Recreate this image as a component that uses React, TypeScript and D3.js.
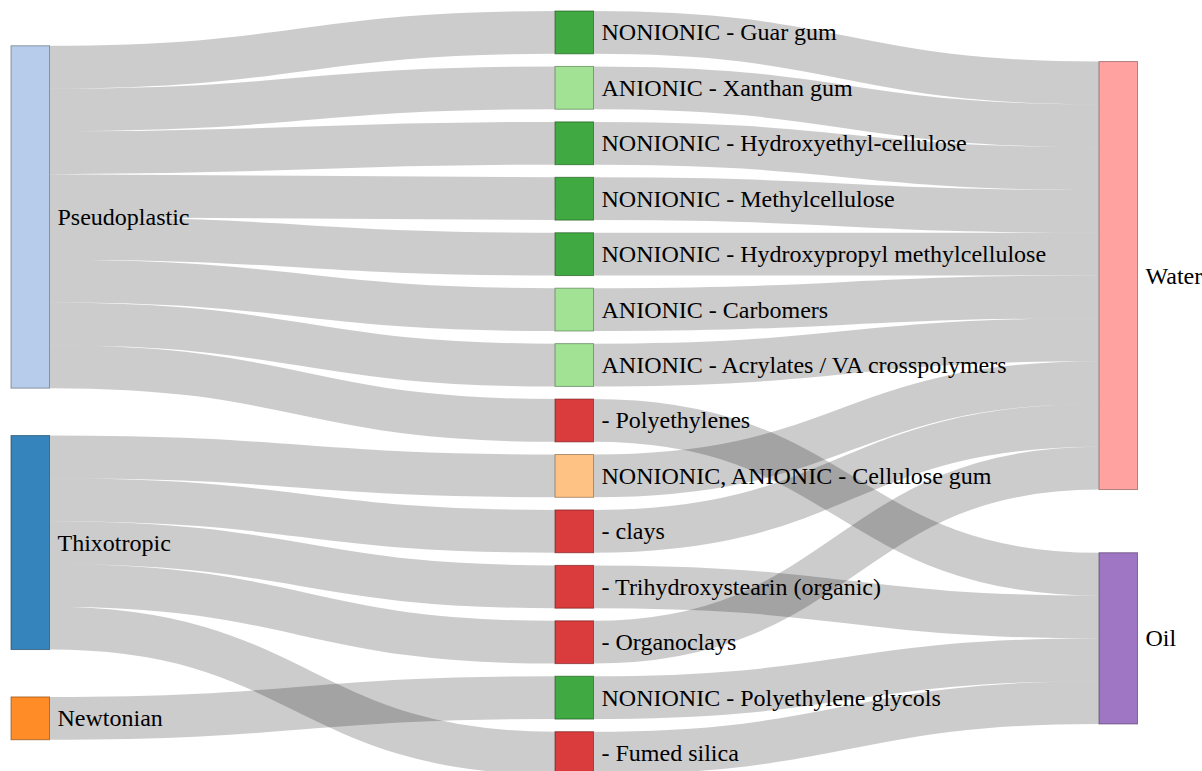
import * as d3 from "d3";
import React, { useMemo } from "react";

// rheology behaviour (left column)
const rheologyNodes = ["Pseudoplastic", "Thixotropic", "Newtonian"];

// thickeners (middle column): ionic type + material
const thickenerTypes = [
  "NONIONIC",
  "ANIONIC",
  "NONIONIC",
  "NONIONIC",
  "NONIONIC",
  "ANIONIC",
  "ANIONIC",
  "",
  "NONIONIC, ANIONIC",
  "",
  "",
  "",
  "NONIONIC",
  "",
];
const thickenerMaterials = [
  "Guar gum",
  "Xanthan gum",
  "Hydroxyethyl-cellulose",
  "Methylcellulose",
  "Hydroxypropyl methylcellulose",
  "Carbomers",
  "Acrylates / VA crosspolymers",
  "Polyethylenes",
  "Cellulose gum",
  "clays",
  "Trihydroxystearin (organic)",
  "Organoclays",
  "Polyethylene glycols",
  "Fumed silica",
];

// solvent phase (right column)
const solventNodes = ["Water", "Oil"];

// rheology each thickener gives, and the phase it thickens
const thickenerRheology = [
  "Pseudoplastic",
  "Pseudoplastic",
  "Pseudoplastic",
  "Pseudoplastic",
  "Pseudoplastic",
  "Pseudoplastic",
  "Pseudoplastic",
  "Pseudoplastic",
  "Thixotropic",
  "Thixotropic",
  "Thixotropic",
  "Thixotropic",
  "Newtonian",
  "Thixotropic",
];
const thickenerSolvent = [
  "Water",
  "Water",
  "Water",
  "Water",
  "Water",
  "Water",
  "Water",
  "Oil",
  "Water",
  "Water",
  "Oil",
  "Water",
  "Oil",
  "Oil",
];
const linkValues = [1, 1, 1, 1, 1, 1, 1, 1, 1, 1, 1, 1, 1, 1];

const colorKeys = [
  "Thixotropic",
  "Pseudoplastic",
  "Newtonian",
  "NONIONIC, ANIONIC",
  "NONIONIC",
  "ANIONIC",
  "",
  "Water",
  "Oil",
];
const palette = [
  "#1f77b4",
  "#aec7e8",
  "#ff7f0e",
  "#ffbb78",
  "#2ca02c",
  "#98df8a",
  "#d62728",
  "#ff9896",
  "#9467bd",
];

const width = 1202;
const height = 771;

// small sankey layout: columns by depth, nodes spread evenly in each column
function sankeyLayout(
  graph: any,
  extent: [[number, number], [number, number]],
  nodeWidth: number,
  nodePadding: number
) {
  const [[x0, y0], [x1, y1]] = extent;
  const { nodes, links } = graph;
  const byName = new Map(nodes.map((d: any) => [d.name, d]));
  nodes.forEach((n: any, i: number) => {
    n.index = i;
    n.sourceLinks = [];
    n.targetLinks = [];
  });
  links.forEach((l: any, i: number) => {
    l.index = i;
    l.source = byName.get(l.source);
    l.target = byName.get(l.target);
    l.source.sourceLinks.push(l);
    l.target.targetLinks.push(l);
  });
  for (const n of nodes) {
    n.value = Math.max(
      d3.sum(n.sourceLinks, (l: any) => l.value),
      d3.sum(n.targetLinks, (l: any) => l.value)
    );
  }

  // depth of each node (breadth-first)
  let current = new Set<any>(nodes);
  let depth = 0;
  while (current.size) {
    const next = new Set<any>();
    for (const n of current) {
      n.depth = depth;
      for (const l of n.sourceLinks) next.add(l.target);
    }
    depth++;
    current = next;
  }
  const nCols = (d3.max(nodes, (d: any) => d.depth) as number) + 1;
  const x = d3
    .scaleLinear()
    .domain([0, nCols - 1])
    .range([x0, x1 - nodeWidth]);
  const columns: any[][] = Array.from({ length: nCols }, () => []);
  for (const n of nodes) {
    n.layer = n.sourceLinks.length ? n.depth : nCols - 1;
    n.x0 = x(n.layer);
    n.x1 = n.x0 + nodeWidth;
    columns[n.layer].push(n);
  }

  const py = nodePadding;
  const ky = d3.min(
    columns,
    (c) => (y1 - y0 - (c.length - 1) * py) / d3.sum(c, (d: any) => d.value)
  )!;
  for (const col of columns) {
    let y = y0;
    for (const n of col) {
      n.y0 = y;
      n.y1 = y + n.value * ky;
      y = n.y1 + py;
      for (const l of n.sourceLinks) l.width = l.value * ky;
    }
    const extra = (y1 - y + py) / (col.length + 1);
    col.forEach((n, i) => {
      n.y0 += extra * (i + 1);
      n.y1 += extra * (i + 1);
    });
  }

  // stack links at each node in the order of the node they connect to
  for (const n of nodes) {
    n.sourceLinks.sort((a: any, b: any) => a.target.y0 - b.target.y0 || a.index - b.index);
    n.targetLinks.sort((a: any, b: any) => a.source.y0 - b.source.y0 || a.index - b.index);
    let a = n.y0;
    let b = n.y0;
    for (const l of n.sourceLinks) {
      l.y0 = a + l.width / 2;
      a += l.width;
    }
    for (const l of n.targetLinks) {
      l.y1 = b + l.width / 2;
      b += l.width;
    }
  }
  return graph;
}

const App: React.FC = () => {
  const graph = useMemo(() => {
    const thickenerNames = thickenerMaterials.map((m, i) => `${thickenerTypes[i]} - ${m}`);
    const nodes = [
      ...rheologyNodes.map((name) => ({ name, key: name })),
      ...thickenerNames.map((name, i) => ({ name, key: thickenerTypes[i] })),
      ...solventNodes.map((name) => ({ name, key: name })),
    ];
    const links = [
      ...thickenerNames.map((name, i) => ({
        source: thickenerRheology[i],
        target: name,
        value: linkValues[i],
      })),
      ...thickenerNames.map((name, i) => ({
        source: name,
        target: thickenerSolvent[i],
        value: linkValues[i],
      })),
    ];
    return sankeyLayout(
      { nodes, links },
      [
        [11, 11],
        [1137.5, 774.5],
      ],
      38.5,
      12.64
    );
  }, []);

  const color = d3.scaleOrdinal<string, string>().domain(colorKeys).range(palette);
  const linkPath = d3
    .linkHorizontal<any, [number, number]>()
    .source((d: any) => [d.source.x1, d.y0])
    .target((d: any) => [d.target.x0, d.y1]);

  return (
    <svg
      width={width}
      height={height}
      style={{ position: "absolute", left: 0, top: 0, background: "#fff" }}
    >
      <g fill="none" stroke="#000" strokeOpacity={0.2}>
        {graph.links.map((d: any) => (
          <path key={d.index} d={linkPath(d) || ""} strokeWidth={Math.max(1, d.width)} />
        ))}
      </g>
      {graph.nodes.map((d: any) => (
        <rect
          key={"r" + d.index}
          x={d.x0}
          y={d.y0}
          width={d.x1 - d.x0}
          height={d.y1 - d.y0}
          fill={color(d.key)}
          fillOpacity={0.9}
          stroke={d3.rgb(color(d.key)).darker(2).toString()}
          strokeOpacity={0.6}
        />
      ))}
      {graph.nodes.map((d: any) => (
        <text
          key={"t" + d.index}
          x={d.x1 + 8}
          y={(d.y0 + d.y1) / 2 + 8}
          fontSize={24}
          style={{ fontFamily: '"Tinos"' }}
        >
          {d.name}
        </text>
      ))}
    </svg>
  );
};

export default App;
